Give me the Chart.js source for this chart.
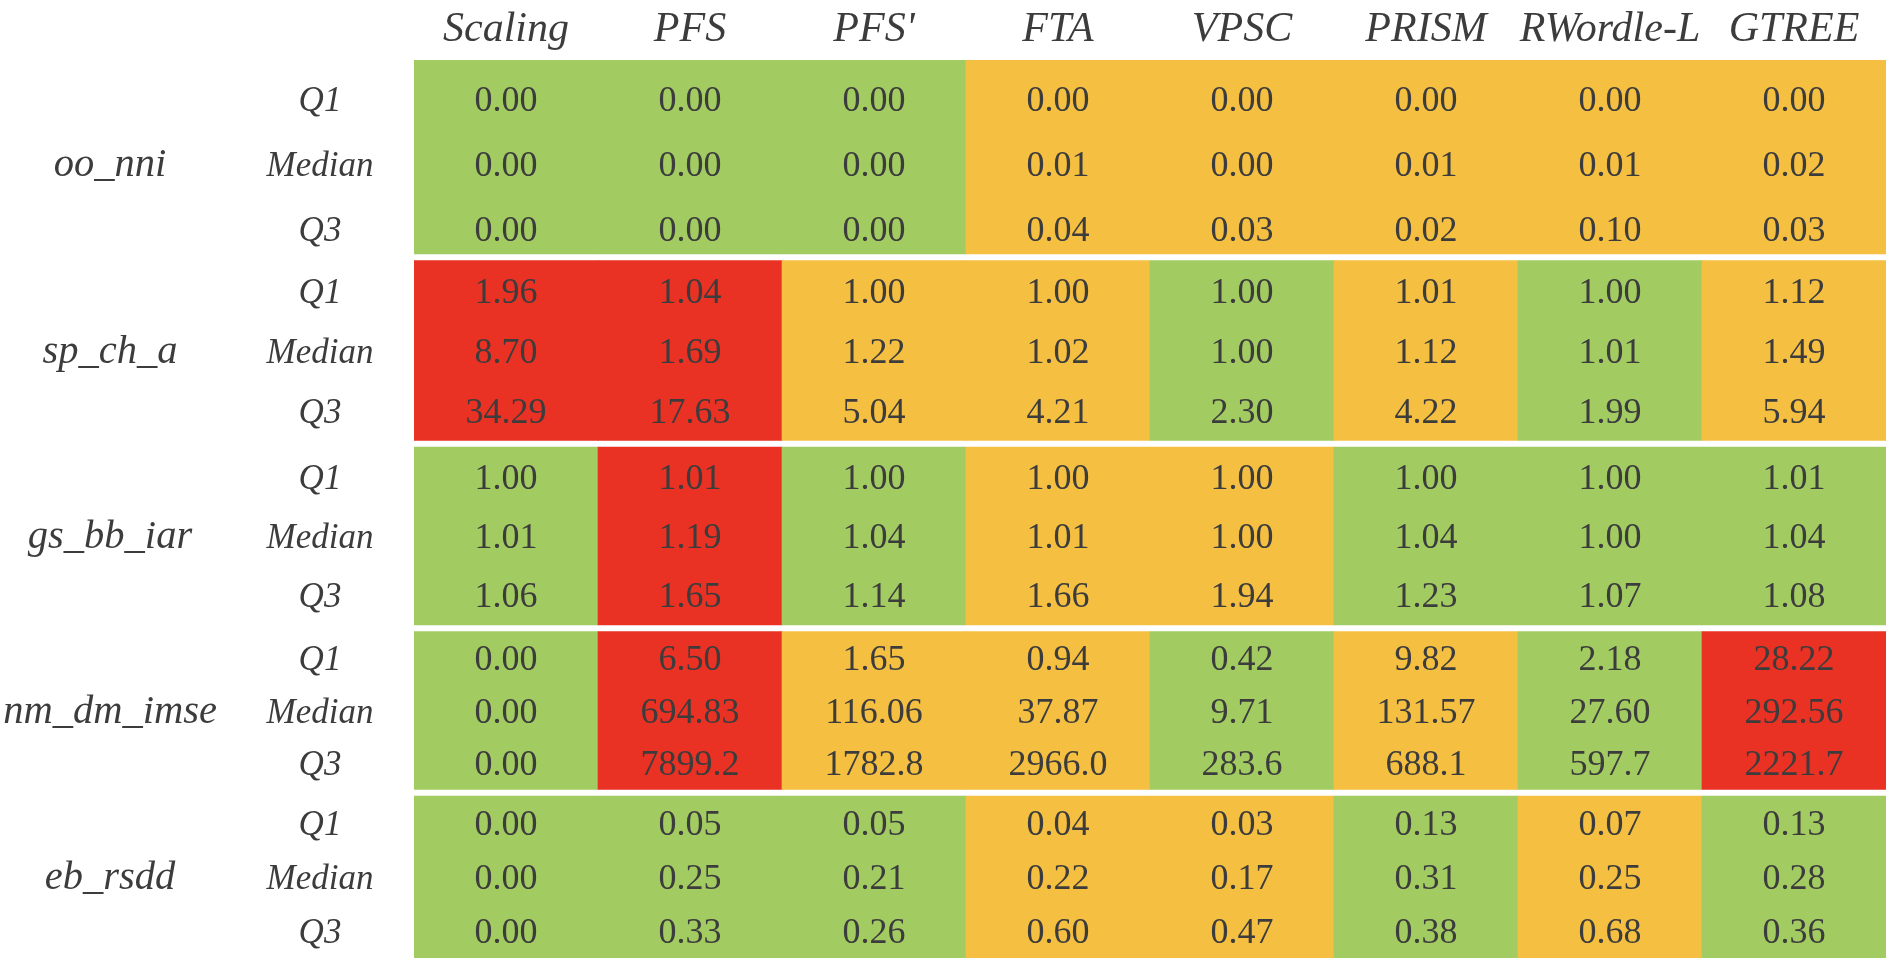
<!DOCTYPE html>
<html>
<head>
<meta charset="utf-8">
<script src="https://cdn.jsdelivr.net/npm/chart.js@4.4.0/dist/chart.umd.min.js"></script>
<style>
  html, body { margin: 0; padding: 0; background: #fff; }
  canvas { display: block; }
</style>
</head>
<body>
<canvas id="table-chart" width="1892" height="966"></canvas>
<script>
const methods = ["Scaling", "PFS", "PFS'", "FTA", "VPSC", "PRISM", "RWordle-L", "GTREE"];
const metrics = ["oo_nni", "sp_ch_a", "gs_bb_iar", "nm_dm_imse", "eb_rsdd"];
const stats = ["Q1", "Median", "Q3"];

// cell texts, one row per statistic (Q1, Median, Q3)
const oo_nni = [
  ["0.00", "0.00", "0.00", "0.00", "0.00", "0.00", "0.00", "0.00"],
  ["0.00", "0.00", "0.00", "0.01", "0.00", "0.01", "0.01", "0.02"],
  ["0.00", "0.00", "0.00", "0.04", "0.03", "0.02", "0.10", "0.03"],
];
const sp_ch_a = [
  ["1.96", "1.04", "1.00", "1.00", "1.00", "1.01", "1.00", "1.12"],
  ["8.70", "1.69", "1.22", "1.02", "1.00", "1.12", "1.01", "1.49"],
  ["34.29", "17.63", "5.04", "4.21", "2.30", "4.22", "1.99", "5.94"],
];
const gs_bb_iar = [
  ["1.00", "1.01", "1.00", "1.00", "1.00", "1.00", "1.00", "1.01"],
  ["1.01", "1.19", "1.04", "1.01", "1.00", "1.04", "1.00", "1.04"],
  ["1.06", "1.65", "1.14", "1.66", "1.94", "1.23", "1.07", "1.08"],
];
const nm_dm_imse = [
  ["0.00", "6.50", "1.65", "0.94", "0.42", "9.82", "2.18", "28.22"],
  ["0.00", "694.83", "116.06", "37.87", "9.71", "131.57", "27.60", "292.56"],
  ["0.00", "7899.2", "1782.8", "2966.0", "283.6", "688.1", "597.7", "2221.7"],
];
const eb_rsdd = [
  ["0.00", "0.05", "0.05", "0.04", "0.03", "0.13", "0.07", "0.13"],
  ["0.00", "0.25", "0.21", "0.22", "0.17", "0.31", "0.25", "0.28"],
  ["0.00", "0.33", "0.26", "0.60", "0.47", "0.38", "0.68", "0.36"],
];
const values = [oo_nni, sp_ch_a, gs_bb_iar, nm_dm_imse, eb_rsdd];

// colour class of each metric/method block: G good, O middle, R bad
const ranks = [
  ["G", "G", "G", "O", "O", "O", "O", "O"],
  ["R", "R", "O", "O", "G", "O", "G", "O"],
  ["G", "R", "G", "O", "O", "G", "G", "G"],
  ["G", "R", "O", "O", "G", "O", "G", "R"],
  ["G", "G", "G", "O", "O", "G", "O", "G"],
];

const palette = { G: "#a2cc62", O: "#f5bf41", R: "#e93224" };
const textColor = "#3c3c3c";
const serif = "'Liberation Serif', 'Times New Roman', Times, serif";

// layout: height of each metric block, the white gap between blocks,
// and a small extra top inset of the text in the first block
const groupHeights = [194, 180, 178, 158, 162];
const groupGap = 6.5;
const textShift = [7, 0, 0, 0, 0];

const starts = [];
let acc = 0;
groupHeights.forEach((h) => {
  starts.push(acc);
  acc += h + groupGap;
});
const total = acc - groupGap;

const datasets = metrics.map((m, g) => ({
  label: m,
  data: methods.map(() => [starts[g], starts[g] + groupHeights[g]]),
  backgroundColor: ranks[g].map((r) => palette[r]),
  borderWidth: 0,
  borderSkipped: false,
  grouped: false,
  barPercentage: 1.0,
  categoryPercentage: 1.0,
}));

const rowCenter = (g, k) => starts[g] + textShift[g] + (groupHeights[g] * (k + 0.5)) / 3;

const drawTexts = {
  id: "drawTexts",
  afterDatasetsDraw: (chart) => {
    const { ctx, chartArea } = chart;
    const x = chart.scales.x;
    const y = chart.scales.y;
    ctx.save();
    ctx.fillStyle = textColor;
    ctx.textAlign = "center";
    ctx.textBaseline = "alphabetic";

    // column headers
    ctx.font = "italic 42px " + serif;
    methods.forEach((m, i) => {
      ctx.fillText(m, x.getPixelForValue(i), chartArea.top - 19);
    });

    values.forEach((rows, g) => {
      rows.forEach((row, k) => {
        const base = y.getPixelForValue(rowCenter(g, k)) + 12;
        ctx.font = "36px " + serif;
        row.forEach((v, i) => {
          ctx.fillText(v, x.getPixelForValue(i), base);
        });
        ctx.font = "italic 35px " + serif;
        ctx.fillText(stats[k], chartArea.left - 94, base);
      });
      const midBase = y.getPixelForValue(rowCenter(g, 1)) + 12;
      ctx.font = "italic 40.5px " + serif;
      ctx.fillText(metrics[g], chartArea.left - 304, midBase);
    });
    ctx.restore();
  },
};

const build = () =>
  new Chart(document.getElementById("table-chart"), {
    type: "bar",
    data: { labels: methods, datasets: datasets },
    options: {
      responsive: false,
      animation: false,
      devicePixelRatio: 1,
      layout: { padding: { left: 414, right: 6, top: 60, bottom: 8 } },
      scales: {
        x: { type: "category", display: false, offset: true },
        y: { type: "linear", display: false, reverse: true, min: 0, max: total },
      },
      plugins: {
        legend: { display: false },
        tooltip: { enabled: false },
      },
    },
    plugins: [drawTexts],
  });

Promise.all([
  document.fonts.load("36px 'Liberation Serif'"),
  document.fonts.load("italic 40px 'Liberation Serif'"),
]).then(build, build);
</script>
</body>
</html>
